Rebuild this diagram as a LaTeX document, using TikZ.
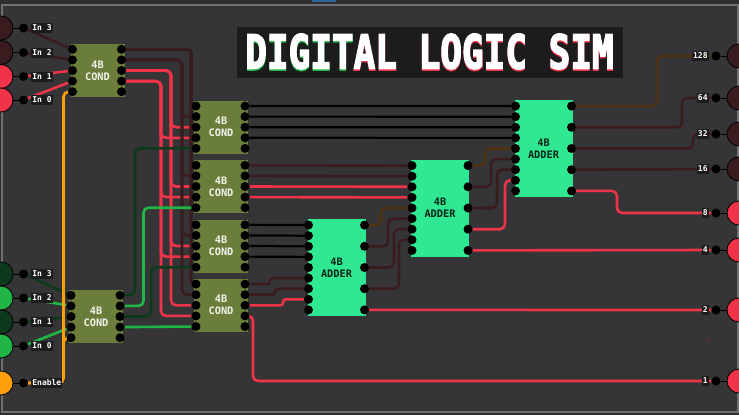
\documentclass[tikz,border=0pt]{standalone}
\usepackage{fontspec}
\usepackage{tikz}
\setmonofont{DejaVu Sans Mono}
\newfontfamily\titlefont[FakeBold=3.5]{DejaVu Sans Mono Bold}
\definecolor{cbg}{HTML}{353537}
\definecolor{cout}{HTML}{2E2E30}
\definecolor{cframe}{HTML}{707070}
\definecolor{ctag}{HTML}{1C1C1C}
\definecolor{cred}{HTML}{EF3349}
\definecolor{cdark}{HTML}{3A1B1E}
\definecolor{cgreen}{HTML}{1FB646}
\definecolor{cdgreen}{HTML}{0E3A1C}
\definecolor{corange}{HTML}{FFA00A}
\definecolor{cbrown}{HTML}{4F3212}
\definecolor{ccond}{HTML}{6B7D3A}
\definecolor{cadder}{HTML}{30E892}
\definecolor{ctab}{HTML}{2A6699}
\pgfdeclarelayer{base}
\pgfdeclarelayer{wires}
\pgfsetlayers{base,wires,main}
\tikzset{
  wire/.style={line width=2.6pt,rounded corners=5pt},
  wred/.style={wire,cred},
  wdark/.style={wire,cdark},
  wgreen/.style={wire,cgreen},
  wdgreen/.style={wire,cdgreen},
  wbrown/.style={wire,cbrown},
  wblack/.style={wire,black,line width=2.2pt},
  worange/.style={wire,corange},
  jog/.style={rounded corners=2.5pt},
  pin/.style={circle,fill=black,inner sep=0pt,minimum size=9pt},
  port/.style={circle,draw=black,line width=0.8pt,inner sep=0pt,minimum size=24pt},
  tag/.style={fill=ctag,text=white,inner sep=1.2pt,minimum height=10pt,font=\ttfamily\bfseries\fontsize{8}{9}\selectfont},
  cond/.style={fill=ccond,text=white!90!ccond,minimum width=54pt,minimum height=53pt,inner sep=0pt,align=center,font=\ttfamily\bfseries\fontsize{10.3}{12}\selectfont},
  adder/.style={fill=cadder,text=black!85!cadder,minimum width=58pt,minimum height=97pt,inner sep=0pt,align=center,font=\ttfamily\bfseries\fontsize{10.3}{12}\selectfont},
}
% wire with one vertical run at x=#3
\newcommand{\hvh}[4]{\draw[#1] (#2) -- (#3,0 |- #2) -- (#3,0 |- #4) -- (#4);}
% 4B COND chip: name, x, y
\newcommand{\condchip}[3]{
  \node[cond] (#1) at (#2,#3) {4B\\COND};
  \foreach \i in {1,...,5} {
    \node[pin] (#1l\i) at (#2-25,#3-21.2+10.6*\i-10.6) {};
    \node[pin] (#1r\i) at (#2+24,#3-21.2+10.6*\i-10.6) {};
  }
}
% 4B ADDER chip: name, x, y
\newcommand{\adderchip}[3]{
  \node[adder] (#1) at (#2,#3) {4B\\ADDER};
  \foreach \i in {1,...,9}
    \node[pin] (#1l\i) at (#2-28,#3-42.4+10.6*\i-10.6) {};
  \foreach \i in {1,...,5}
    \node[pin] (#1r\i) at (#2+28,#3-42.4+21.2*\i-21.2) {};
}
% input port: name, y, colour, text
\newcommand{\inport}[4]{
  \node[port,fill=#3] (#1p) at (1,#2) {};
  \node[pin] (#1) at (23.5,#2) {};
  \draw (#1p) -- (#1);
  \node[tag,anchor=west] (#1t) at (31,#2) {#4};
}
% output port: name, y, colour, text
\newcommand{\outport}[4]{
  \node[port,fill=#3] (#1p) at (739,#2) {};
  \node[pin] (#1) at (716,#2) {};
  \draw (#1p) -- (#1);
  \node[tag,anchor=east] (#1t) at (709,#2) {#4};
}
\begin{document}
\begin{tikzpicture}[x=1pt,y=-1pt]
\useasboundingbox (0,0) rectangle (739,415);

% ================= BOARD =================
\begin{pgfonlayer}{base}
  \fill[cout] (0,0) rectangle (739,415);
  \fill[ctab] (312,0) rectangle (336,2);
  \fill[cbg,draw=cframe,line width=2pt] (2,5) rectangle (737.5,411.5);
  \fill[cred!70!black] (707.5,340) circle (0.8pt);
\end{pgfonlayer}

% ================= TITLE =================
\fill[ctag] (237,27) rectangle (622.5,78);
\node[inner sep=0pt] (titleshade) at (429.5,53) {\titlefont\fontsize{36}{36}\selectfont\scalebox{1}[1.3]{\textcolor{cgreen}{DIGIT}\textcolor{cred}{AL LOGIC SIM}}};
\node[inner sep=0pt,text=white] (title) at (429.5,51.5) {\titlefont\fontsize{36}{36}\selectfont\scalebox{1}[1.3]{DIGITAL LOGIC SIM}};

% ================= CHIPS =================
\condchip{ca}{97.5}{70.5}
\condchip{cb}{221}{127.2}
\condchip{cc}{221}{186.5}
\condchip{cd}{221}{246}
\condchip{ce}{221}{305.3}
\condchip{cf}{96}{316.5}
\adderchip{aa}{336.5}{267.5}
\adderchip{ab}{440}{208}
\adderchip{ac}{543.5}{148.5}

% ================= PORTS =================
\inport{ia}{28}{cdark}{In 3}
\inport{ib}{52.5}{cdark}{In 2}
\inport{ic}{76.5}{cred}{In 1}
\inport{id}{100}{cred}{In 0}
\inport{ie}{274}{cdgreen}{In 3}
\inport{if}{298}{cgreen}{In 2}
\inport{ig}{322}{cdgreen}{In 1}
\inport{ih}{346}{cgreen}{In 0}
\inport{ij}{383}{corange}{Enable}
\outport{oa}{56}{cdark}{128}
\outport{ob}{98}{cdark}{64}
\outport{oc}{134}{cdark}{32}
\outport{od}{169}{cdark}{16}
\outport{oe}{213}{cred}{8}
\outport{of}{250}{cred}{4}
\outport{og}{310}{cred}{2}
\outport{oh}{381}{cred}{1}

% ================= WIRES =================
\begin{pgfonlayer}{wires}
  % inputs
  \draw[wdark] (ia) -- (cal1);
  \draw[wdark] (ib) -- (cal2);
  \draw[wred] (ic) -- (cal3);
  \draw[wred] (id) -- (cal4);
  \draw[wdgreen] (ie) -- (cfl1);
  \draw[wgreen] (if) -- (cfl2);
  \draw[wdgreen] (ig) -- (cfl3);
  \draw[wgreen] (ih) -- (cfl4);
  % enable
  \hvh{worange}{ij}{63.5}{cal5}
  \hvh{worange}{ij}{63.5}{cfl5}
  % top chip to the four chips
  \foreach \c in {cb,cc,cd,ce} {
    \hvh{wdark,rounded corners=3pt}{car1}{191}{\c l1}
    \hvh{wdark}{car2}{182}{\c l2}
    \hvh{wred}{car3}{171}{\c l3}
    \hvh{wred}{car4}{161}{\c l4}
  }
  % bottom chip to the four chips
  \hvh{wdgreen}{cfr1}{135}{cbl5}
  \hvh{wgreen}{cfr2}{143.5}{ccl5}
  \hvh{wdgreen}{cfr3}{151}{cdl5}
  \draw[wgreen] (cfr4) -- (cel5);
  % chips to adders
  \foreach \i in {1,...,4} {
    \draw[wblack] (cbr\i) -- (acl\i);
    \draw[wblack] (cdr\i) -- (aal\i);
  }
  \draw[wdark] (ccr1) -- (abl1);
  \draw[wdark] (ccr2) -- (abl2);
  \draw[wred] (ccr3) -- (abl3);
  \draw[wred] (ccr4) -- (abl4);
  \hvh{wdark,jog}{cer1}{270}{aal6}
  \hvh{wdark,jog}{cer2}{275}{aal7}
  \hvh{wred,jog}{cer3}{283}{aal8}
  \hvh{wred}{cer4}{253}{oh}
  % adder carries
  \hvh{wbrown}{aar1}{381}{abl5}
  \hvh{wdark}{aar2}{388}{abl6}
  \hvh{wdark}{aar3}{394}{abl7}
  \hvh{wdark}{aar4}{399}{abl8}
  \draw[wred] (aar5) -- (og);
  \hvh{wbrown}{abr1}{485}{acl5}
  \hvh{wdark}{abr2}{491}{acl6}
  \hvh{wdark}{abr3}{497}{acl7}
  \hvh{wred}{abr4}{505}{acl8}
  \draw[wred] (abr5) -- (of);
  % outputs
  \hvh{wbrown}{acr1}{657}{oa}
  \hvh{wdark}{acr2}{682}{ob}
  \hvh{wdark}{acr3}{693}{oc}
  \draw[wdark] (acr4) -- (od);
  \hvh{wred}{acr5}{617}{oe}
\end{pgfonlayer}

\end{tikzpicture}
\end{document}
